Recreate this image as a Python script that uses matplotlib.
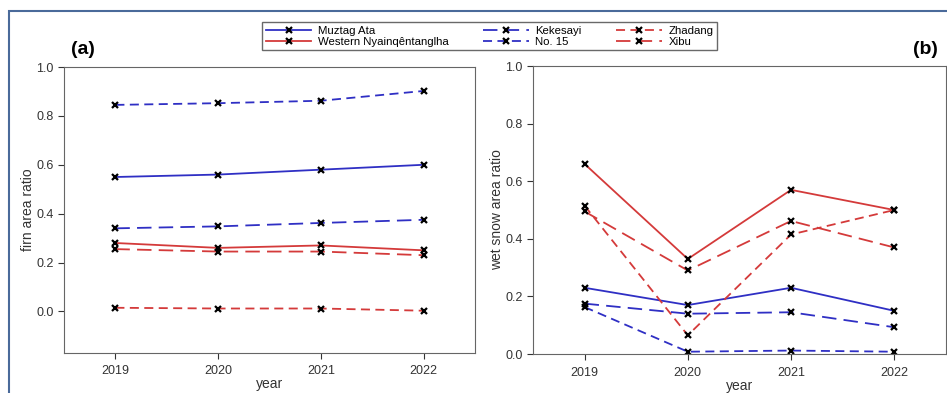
import matplotlib.pyplot as plt
from matplotlib.patches import Rectangle

plt.rcParams['font.family'] = ['Liberation Sans', 'DejaVu Sans']

years = [2019, 2020, 2021, 2022]

# firn area ratio (a)
firn_muztag = [0.55, 0.56, 0.58, 0.60]
firn_western = [0.28, 0.26, 0.27, 0.25]
firn_kekesayi = [0.34, 0.348, 0.362, 0.375]
firn_no15 = [0.845, 0.852, 0.862, 0.902]
firn_zhadang = [0.015, 0.012, 0.012, 0.003]
firn_xibu = [0.255, 0.245, 0.245, 0.23]

# wet snow area ratio (b)
wet_muztag = [0.23, 0.17, 0.23, 0.15]
wet_western = [0.66, 0.33, 0.57, 0.50]
wet_kekesayi = [0.175, 0.14, 0.145, 0.093]
wet_no15 = [0.163, 0.008, 0.012, 0.008]
wet_zhadang = [0.515, 0.065, 0.415, 0.50]
wet_xibu = [0.495, 0.29, 0.462, 0.37]

names = ['Muztag Ata', 'Western Nyainqêntanglha', 'Kekesayi', 'No. 15', 'Zhadang', 'Xibu']
firn = [firn_muztag, firn_western, firn_kekesayi, firn_no15, firn_zhadang, firn_xibu]
wet = [wet_muztag, wet_western, wet_kekesayi, wet_no15, wet_zhadang, wet_xibu]

blue = '#2f2fc4'
red = '#d43a3a'
styles = [
    dict(color=blue, ls='-'),
    dict(color=red, ls='-'),
    dict(color=blue, ls=(0, (8, 4))),
    dict(color=blue, ls=(0, (5, 3))),
    dict(color=red, ls=(0, (5, 3))),
    dict(color=red, ls=(0, (8, 4))),
]

fig = plt.figure(figsize=(9.47, 3.93), dpi=100)
fig.patches.append(Rectangle((0.009, -0.1), 1.2, 1.072, transform=fig.transFigure,
                             fill=False, ec='#4a6a9a', lw=1.5))

ax1 = fig.add_axes([0.0676, 0.1018, 0.434, 0.7277])
ax2 = fig.add_axes([0.5628, 0.0992, 0.436, 0.7328])

handles = []
for data, name, st in zip(firn, names, styles):
    h, = ax1.plot(years, data, lw=1.3, marker='x', ms=5, mew=1.6, mec='black', label=name, **st)
    handles.append(h)
for data, st in zip(wet, styles):
    ax2.plot(years, data, lw=1.3, marker='x', ms=5, mew=1.6, mec='black', **st)

ax1.set_ylim(-0.17, 1.0)
ax2.set_ylim(0, 1.0)
ax1.set_ylabel('firn area ratio', fontsize=10, color='#333333', labelpad=1)
ax2.set_ylabel('wet snow area ratio', fontsize=10, color='#333333', labelpad=1)
for ax in (ax1, ax2):
    ax.set_xlim(2018.5, 2022.5)
    ax.set_xticks(years)
    ax.set_yticks([0.0, 0.2, 0.4, 0.6, 0.8, 1.0])
    ax.set_yticklabels(['0.0', '0.2', '0.4', '0.6', '0.8', '1.0'])
    ax.tick_params(labelsize=9, colors='#333333', length=4, direction='out')
    ax.tick_params(axis='x', pad=5)
    ax.set_xlabel('year', fontsize=10, color='#333333', labelpad=0)
    for sp in ax.spines.values():
        sp.set_color('#666666')

fig.text(0.075, 0.873, '(a)', fontsize=14, fontweight='bold', va='center')
fig.text(0.99, 0.873, '(b)', fontsize=14, fontweight='bold', ha='right', va='center')

leg = fig.legend(handles=handles, ncol=3, loc='center', bbox_to_anchor=(0.517, 0.908),
                 fontsize=8.2, frameon=True, fancybox=False, edgecolor='#444444',
                 handlelength=4, columnspacing=3, labelspacing=0.1, borderpad=0.3,
                 handletextpad=0.6)
leg.get_frame().set_linewidth(1.0)

fig.savefig('out.png', dpi=100)
